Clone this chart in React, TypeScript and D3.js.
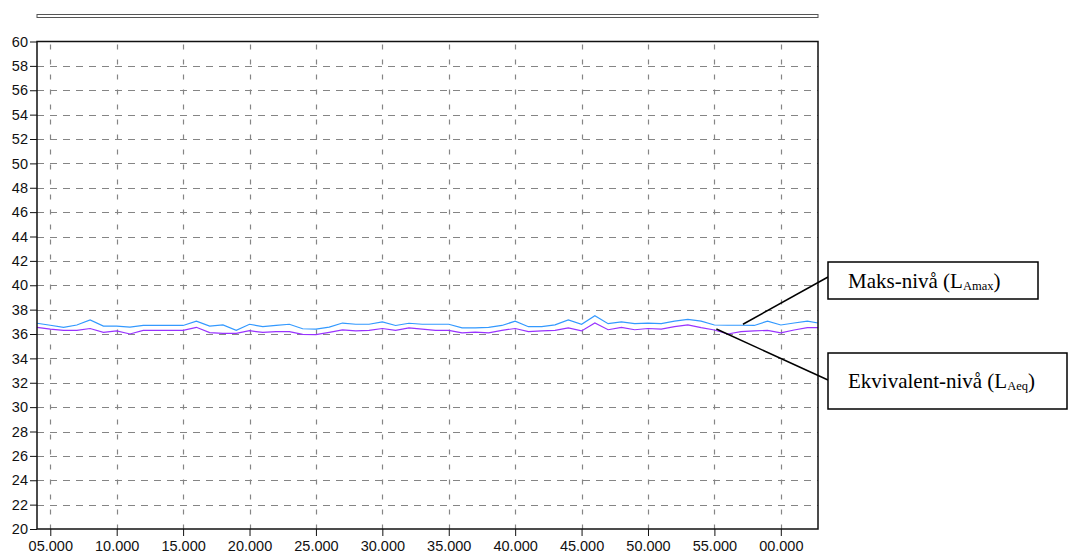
import * as d3 from 'd3';
import { useEffect, useRef } from 'react';

// minutes past the hour (60+ wraps to 00)
const minutes = [
  4, 5, 6, 7, 8, 9, 10, 11, 12, 13, 14, 15, 16, 17, 18, 19, 20, 21, 22, 23,
  24, 25, 26, 27, 28, 29, 30, 31, 32, 33, 34, 35, 36, 37, 38, 39, 40, 41, 42, 43,
  44, 45, 46, 47, 48, 49, 50, 51, 52, 53, 54, 55, 56, 57, 58, 59, 60, 61, 62, 62.8
];

// Maks-nivå (LAmax), dB
const laMax = [
  36.88, 36.72, 36.55, 36.74, 37.15, 36.65, 36.65, 36.57, 36.7, 36.7, 36.7, 36.7, 37.06, 36.65, 36.74, 36.3, 36.8, 36.6, 36.7, 36.8,
  36.43, 36.4, 36.57, 36.9, 36.8, 36.8, 37.0, 36.7, 36.88, 36.8, 36.8, 36.8, 36.5, 36.5, 36.55, 36.7, 37.05, 36.6, 36.6, 36.75,
  37.15, 36.8, 37.5, 36.85, 37.0, 36.85, 36.9, 36.85, 37.05, 37.2, 37.05, 36.74, 36.72, 36.72, 36.7, 37.05, 36.74, 36.9, 37.05, 36.9
];

// Ekvivalent-nivå (LAeq), dB
const laEq = [
  36.55, 36.4, 36.3, 36.3, 36.45, 36.14, 36.25, 36.0, 36.3, 36.3, 36.3, 36.3, 36.55, 36.12, 36.05, 36.05, 36.27, 36.13, 36.2, 36.2,
  35.97, 35.95, 36.14, 36.33, 36.25, 36.3, 36.45, 36.3, 36.5, 36.4, 36.3, 36.3, 36.1, 36.15, 36.1, 36.3, 36.45, 36.2, 36.25, 36.3,
  36.5, 36.25, 36.9, 36.35, 36.55, 36.35, 36.45, 36.4, 36.6, 36.75, 36.52, 36.33, 36.0, 36.2, 36.25, 36.3, 36.1, 36.33, 36.52, 36.52
];

const xTicks = [5, 10, 15, 20, 25, 30, 35, 40, 45, 50, 55, 60];
const yTicks = d3.range(20, 61, 2);

const W = 1069;
const H = 559;
const plot = { left: 37, right: 818, top: 41.5, bottom: 529 };

const App = () => {
  const svgRef = useRef(null);

  useEffect(() => {
    const svg = d3.select(svgRef.current);
    svg.selectAll('*').remove();

    const x = d3.scaleLinear().domain([4, 62.8]).range([plot.left, plot.right]);
    const y = d3.scaleLinear().domain([20, 60]).range([plot.bottom, plot.top]);

    // ── top bar ────────────────────────────────────────────────────────────
    svg.append('rect')
      .attr('x', plot.left).attr('y', 14.5)
      .attr('width', plot.right - plot.left).attr('height', 3)
      .attr('fill', '#fff').attr('stroke', '#555').attr('stroke-width', 1);

    // ── grid ───────────────────────────────────────────────────────────────
    const grid = svg.append('g').attr('stroke', '#858585').attr('stroke-width', 1.2).attr('fill', 'none');
    grid.selectAll('line.h')
      .data(yTicks.filter(d => d > 20 && d < 60))
      .join('line')
      .attr('class', 'h')
      .attr('x1', plot.left).attr('x2', plot.right)
      .attr('y1', d => Math.round(y(d)) + 0.5).attr('y2', d => Math.round(y(d)) + 0.5)
      .attr('stroke-dasharray', '7 6');
    grid.selectAll('line.v')
      .data(xTicks)
      .join('line')
      .attr('class', 'v')
      .attr('x1', d => Math.round(x(d)) + 0.5).attr('x2', d => Math.round(x(d)) + 0.5)
      .attr('y1', plot.top).attr('y2', plot.bottom)
      .attr('stroke-dasharray', '0 3 5 7');

    // ── axes ───────────────────────────────────────────────────────────────
    const font = "'Liberation Sans', Arial, sans-serif";
    const yAxis = svg.append('g')
      .attr('transform', `translate(${plot.left},0)`)
      .call(d3.axisLeft(y).tickValues(yTicks).tickSize(7).tickPadding(2).tickFormat(d3.format('d')));
    yAxis.select('.domain').remove();
    yAxis.selectAll('text').attr('font-family', font).attr('font-size', 14.5).attr('fill', '#111');
    yAxis.selectAll('line').attr('stroke', '#111');

    const xAxis = svg.append('g')
      .attr('transform', `translate(0,${plot.bottom})`)
      .call(d3.axisBottom(x).tickValues(xTicks).tickSize(7).tickPadding(5)
        .tickFormat(d => `${String(d % 60).padStart(2, '0')}.000`));
    xAxis.select('.domain').remove();
    xAxis.selectAll('text').attr('font-family', font).attr('font-size', 14.5).attr('fill', '#111');
    xAxis.selectAll('line').attr('stroke', '#111');

    // ── series ─────────────────────────────────────────────────────────────
    const line = vals => d3.line().x((d, i) => x(minutes[i])).y(d => y(d))(vals);
    svg.append('path').attr('d', line(laMax)).attr('fill', 'none').attr('stroke', '#3399ff').attr('stroke-width', 1.2);
    svg.append('path').attr('d', line(laEq)).attr('fill', 'none').attr('stroke', '#9933ff').attr('stroke-width', 1.2);

    // ── frame ──────────────────────────────────────────────────────────────
    svg.append('rect')
      .attr('x', plot.left).attr('y', plot.top)
      .attr('width', plot.right - plot.left).attr('height', plot.bottom - plot.top)
      .attr('fill', 'none').attr('stroke', '#111').attr('stroke-width', 1.5);

    // ── callouts ───────────────────────────────────────────────────────────
    const serif = "'Liberation Serif', 'Times New Roman', serif";
    const callouts = [
      { label: 'Maks-nivå (L', sub: 'Amax', box: [828, 262, 210, 37], anchor: [828, 277], idx: 53, vals: laMax },
      { label: 'Ekvivalent-nivå (L', sub: 'Aeq', box: [828, 353, 239, 56], anchor: [828, 380], idx: 51, vals: laEq }
    ];
    callouts.forEach(c => {
      const [bx, by, bw, bh] = c.box;
      svg.append('line')
        .attr('x1', c.anchor[0]).attr('y1', c.anchor[1])
        .attr('x2', x(minutes[c.idx]) + 2).attr('y2', y(c.vals[c.idx]) - 1)
        .attr('stroke', '#000').attr('stroke-width', 1.5);
      svg.append('rect')
        .attr('x', bx).attr('y', by).attr('width', bw).attr('height', bh)
        .attr('fill', '#fff').attr('stroke', '#000').attr('stroke-width', 1.5);
      const t = svg.append('text')
        .attr('x', bx + 20).attr('y', by + bh / 2 + 7)
        .attr('font-family', serif).attr('font-size', 21).attr('fill', '#000');
      t.append('tspan').text(c.label);
      t.append('tspan').attr('font-size', 12.5).attr('dy', 2).text(c.sub);
      t.append('tspan').attr('dy', -2).text(')');
    });
  }, []);

  return (
    <svg
      ref={svgRef}
      width={W}
      height={H}
      style={{ position: 'absolute', left: 0, top: 0, background: '#fff' }}
    />
  );
};

export default App;
